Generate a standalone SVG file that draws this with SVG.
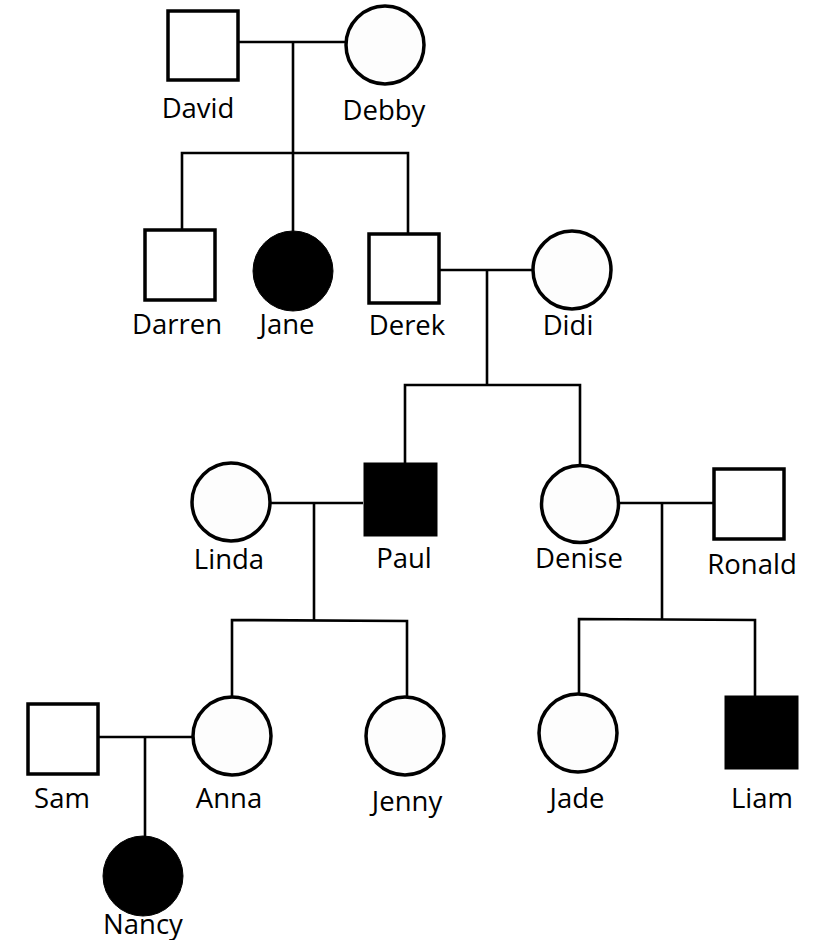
<svg xmlns="http://www.w3.org/2000/svg" width="815" height="940" viewBox="0 0 815 940">
  <style>
    .m { fill: #ffffff; stroke: #000; stroke-width: 3.5; }
    .f { fill: #fdfdfd; stroke: #000; stroke-width: 3.5; }
    .a { fill: #000; stroke: #000; stroke-width: 1; }
    .c line, .c polyline { stroke: #000; stroke-width: 2.6; fill: none; }
    text { font-family: "Open Sans", "Liberation Sans", sans-serif; font-size: 27.5px; fill: #000; text-anchor: middle; }
  </style>
  <rect width="815" height="940" fill="#fff"/>

  <!-- connectors -->
  <g id="connectors" class="c">
    <!-- David + Debby -->
    <line x1="238" y1="42" x2="345" y2="42"/>
    <line x1="293" y1="42" x2="293" y2="231"/>
    <polyline points="182,229 182,153 408,153 408,233"/>
    <!-- Derek + Didi -->
    <line x1="440" y1="270" x2="532" y2="270"/>
    <line x1="487" y1="270" x2="487" y2="385"/>
    <polyline points="405,463 405,385 580,385 580,465"/>
    <!-- Linda + Paul -->
    <line x1="271" y1="503" x2="363" y2="503"/>
    <line x1="314" y1="503" x2="314" y2="620"/>
    <polyline points="232,697 232,620 407,621 407,697"/>
    <!-- Denise + Ronald -->
    <line x1="619" y1="503" x2="713" y2="503"/>
    <line x1="662" y1="503" x2="662" y2="619"/>
    <polyline points="579,693 579,619 755,620 755,696"/>
    <!-- Sam + Anna -->
    <line x1="99" y1="737" x2="192" y2="737"/>
    <line x1="145" y1="737" x2="145" y2="837"/>
  </g>

  <g id="david"><rect class="m" x="168" y="11" width="70" height="69"/><text x="198" y="118">David</text></g>
  <g id="debby"><circle class="f" cx="385" cy="45" r="39"/><text x="384" y="120">Debby</text></g>

  <g id="darren"><rect class="m" x="145" y="230" width="70" height="70"/><text x="177" y="334">Darren</text></g>
  <g id="jane"><circle class="a" cx="293" cy="271" r="40"/><text x="287" y="334">Jane</text></g>
  <g id="derek"><rect class="m" x="369" y="234" width="70" height="69"/><text x="407" y="335">Derek</text></g>
  <g id="didi"><circle class="f" cx="572" cy="270" r="39"/><text x="568" y="335">Didi</text></g>

  <g id="linda"><circle class="f" cx="231" cy="502" r="39"/><text x="229" y="569">Linda</text></g>
  <g id="paul"><rect class="a" x="364" y="463" width="73" height="73"/><text x="404" y="568">Paul</text></g>
  <g id="denise"><circle class="f" cx="580" cy="504" r="38.5"/><text x="579" y="568">Denise</text></g>
  <g id="ronald"><rect class="m" x="714" y="469" width="70" height="70"/><text x="752" y="574">Ronald</text></g>

  <g id="sam"><rect class="m" x="28" y="704" width="70" height="70"/><text x="62" y="808">Sam</text></g>
  <g id="anna"><circle class="f" cx="232" cy="736" r="39"/><text x="229" y="808">Anna</text></g>
  <g id="jenny"><circle class="f" cx="405" cy="736" r="39"/><text x="407" y="811">Jenny</text></g>
  <g id="jade"><circle class="f" cx="578" cy="733" r="39"/><text x="577" y="808">Jade</text></g>
  <g id="liam"><rect class="a" x="725" y="696" width="73" height="73"/><text x="762" y="808">Liam</text></g>

  <g id="nancy"><circle class="a" cx="143" cy="876" r="40"/><text x="143" y="934">Nancy</text></g>
</svg>
